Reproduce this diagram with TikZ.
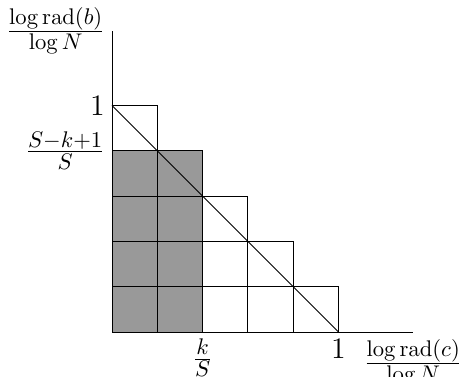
\documentclass[tikz,border=0pt]{standalone}
\usepackage{amsmath,amssymb}
\usepackage{tikz}
\usetikzlibrary{positioning}
\DeclareMathSizes{13.5}{13.5}{10.6}{7.5}
\tikzset{
  cella/.style={draw,line width=0.4pt},
  sotet/.style={fill=gray!80},
  tengely/.style={line width=0.4pt},
  cimke/.style={inner sep=3.3pt},
}

\begin{document}
\begin{tikzpicture}[x=3.85cm,y=3.85cm,font=\fontsize{13.5}{16}\selectfont]
  \useasboundingbox (-0.4945,-0.1943) rectangle (1.532,1.4658);
  \coordinate (O) at (0,0);
  \coordinate (xveg) at (1.33,0);
  \coordinate (yveg) at (0,1.33);
  \coordinate (fent) at (0,1);
  \coordinate (jobb) at (1,0);
  % shaded block
  \fill[sotet] (0,0) rectangle (0.4,0.8);
  % staircase of cells
  \foreach \j in {0,...,4} {
    \pgfmathtruncatemacro\utolso{4-\j}
    \foreach \i in {0,...,\utolso}
      \draw[cella] (\i/5,\j/5) rectangle ++(0.2,0.2);
  }
  \draw[tengely] (O) -- (xveg);
  \draw[tengely] (O) -- (yveg);
  \draw (fent) -- (jobb);
  \node[cimke,left] (ycim) at (yveg) {$\frac{\log\mathrm{rad}(b)}{\log N}$};
  \node[cimke,below] (xcim) at (xveg) {$\frac{\log\mathrm{rad}(c)}{\log N}$};
  \node[cimke,left] (yegy) at (fent) {$1$};
  \node[cimke,left] (ykS) at (0,0.8) {$\frac{S-k+1}{S}$};
  \node[cimke,below] (xegy) at (jobb) {$1$};
  \node[cimke,below] (xkS) at (0.4,0) {$\frac{k}{S}$};
\end{tikzpicture}
\end{document}
